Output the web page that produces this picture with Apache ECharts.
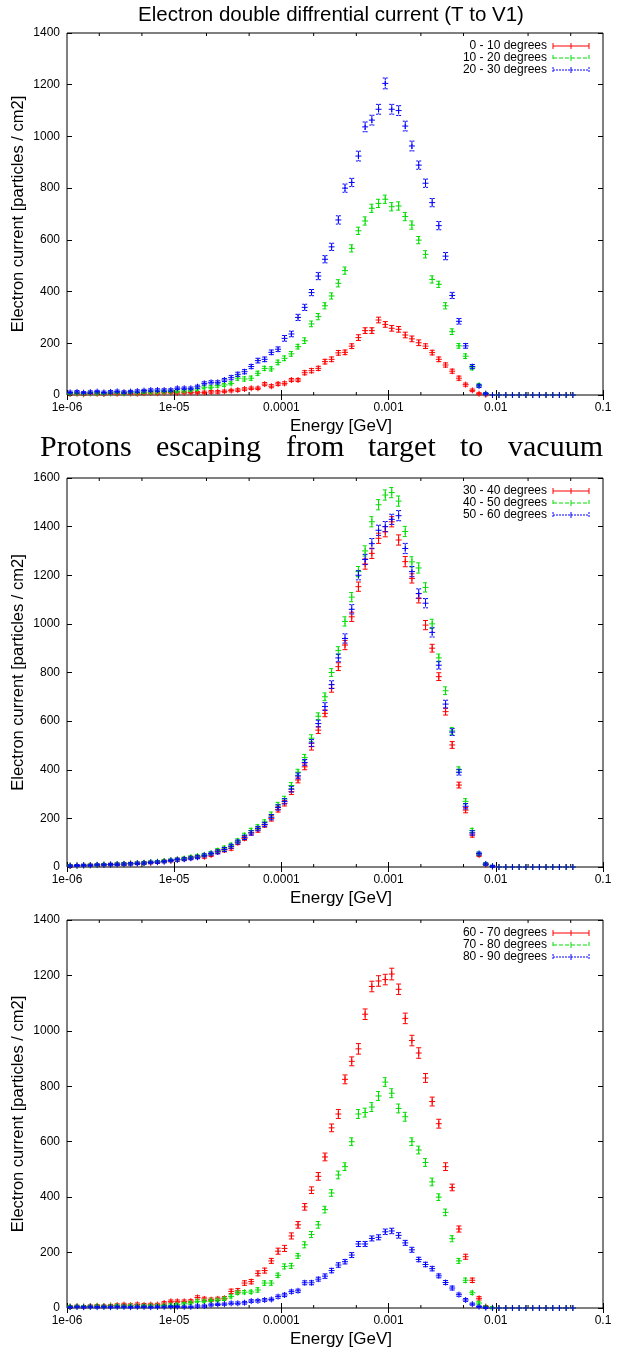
<!DOCTYPE html>
<html>
<head>
<meta charset="utf-8">
<script src="https://cdn.jsdelivr.net/npm/echarts@6/dist/echarts.min.js"></script>
<style>
  html, body { margin: 0; padding: 0; background: #fff; }
  #chart { width: 623px; height: 1350px; }
</style>
</head>
<body>
<div id="chart"></div>
<script>
// Energy bin centres [GeV], 16 logarithmic bins per decade
const energy = [
  1.07e-6, 1.24e-6, 1.43e-6, 1.65e-6, 1.91e-6, 2.21e-6, 2.55e-6, 2.94e-6, 3.40e-6, 3.92e-6, 4.53e-6, 5.23e-6, 6.04e-6, 6.98e-6, 8.06e-6, 9.31e-6,
  1.07e-5, 1.24e-5, 1.43e-5, 1.65e-5, 1.91e-5, 2.21e-5, 2.55e-5, 2.94e-5, 3.40e-5, 3.92e-5, 4.53e-5, 5.23e-5, 6.04e-5, 6.98e-5, 8.06e-5, 9.31e-5,
  1.07e-4, 1.24e-4, 1.43e-4, 1.65e-4, 1.91e-4, 2.21e-4, 2.55e-4, 2.94e-4, 3.40e-4, 3.92e-4, 4.53e-4, 5.23e-4, 6.04e-4, 6.98e-4, 8.06e-4, 9.31e-4,
  1.07e-3, 1.24e-3, 1.43e-3, 1.65e-3, 1.91e-3, 2.21e-3, 2.55e-3, 2.94e-3, 3.40e-3, 3.92e-3, 4.53e-3, 5.23e-3, 6.04e-3, 6.98e-3, 8.06e-3, 9.31e-3,
  1.07e-2, 1.24e-2, 1.43e-2, 1.65e-2, 1.91e-2, 2.21e-2, 2.55e-2, 2.94e-2, 3.40e-2, 3.92e-2, 4.53e-2, 5.23e-2
];

// Energy axis tick labels
const energyTicks = [1e-6, 1e-5, 1e-4, 1e-3, 1e-2, 1e-1];
const energyTickLabels = ['1e-06', '1e-05', '0.0001', '0.001', '0.01', '0.1'];

// --- Panel 1: 0-30 degrees ---
const cur0to10 = [4,5,3,6,5,4,6,5,7,6,5,7, 8,7,9,10,8,9,10,9,10,12,12,14,17, 19,23,26,26,42,34,43,45,58,58,
  86,94,103,129,138,163,165,189,222,249,249, 290,273,258,254,232,217,202,189,164,138,116, 92,65,40,18,5,1,
  0,0,0,0,0,0,0,0,0,0,0,0,0];
const cur0to10Err = [4,4,4,4,4,4,4,4,4,4,4,4, 4,4,4,5,4,4,5,4,5,5,5,5,5, 5,5,5,5,6,6,6,6,6,6,
  8,8,8,9,9,9,9,9,11,11,11, 11,11,11,11,11,11,11,9,9,9,8, 8,8,6,5,4,4,
  0,0,0,0,0,0,0,0,0,0,0,0,0];
const cur10to20 = [6,7,5,8,7,6,8,9,7,10,9,11, 12,12,13,14,15,16,19,23,30,30,36,39,45, 65,62,65,84,103,101,126,142,159,187,
  210,275,303,345,383,432,481,567,635,673,722, 741,757,728,731,690,657,599,544,447,428,345, 245,190,150,105,38,5,
  0,0,0,0,0,0,0,0,0,0,0,0,0];
const cur10to20Err = [4,4,4,4,4,4,4,4,4,5,4,5, 5,5,5,5,5,5,5,5,6,6,6,6,6, 8,8,8,8,8,8,9,9,9,9,
  11,11,12,12,12,14,14,14,14,16,16, 16,16,16,16,16,16,14,14,14,12,12, 11,9,9,8,6,4,
  0,0,0,0,0,0,0,0,0,0,0,0,0];
const cur20to30 = [10,12,9,11,13,10,12,14,11,13,15,17, 19,19,19,19,26,26,26,32,45,49,49,58,67, 80,90,110,133,138,165,177,219,236,300,
  339,396,460,525,573,677,800,822,924,1037,1063, 1105,1205,1105,1100,1040,963,889,819,744,655,537, 385,285,190,110,35,5,
  0,0,0,0,0,0,0,0,0,0,0,0,0];
const cur20to30Err = [5,5,4,5,5,5,5,5,5,5,5,5, 5,5,5,5,5,5,5,6,6,6,6,6,8, 8,8,8,9,9,9,9,11,11,12,
  12,12,14,14,14,16,16,16,19,19,19, 19,21,19,19,19,19,16,16,16,16,14, 12,11,9,8,6,4,
  0,0,0,0,0,0,0,0,0,0,0,0,0];

// --- Panel 2: 30-60 degrees ---
const cur30to40 = [5,6,7,8,8,9,10,11,12,14,15,17,18,20,24,26,30,33,38,
  42,42,49,63,70,77,100,118,141,152,173,200,237,262,310,358,
  412,495,563,632,735,824,913,1029,1153,1246,1290,1352,1379,1420,1345,1256,
  1187,1105,995,900,783,639,502,337,234,132,49,10,2,
  0,0,0,0,0,0,0,0,0,0,0,0];
const cur30to40Err = [4,4,4,4,4,4,5,5,5,5,5,5,5,5,5,5,6,6,6,
  6,6,6,8,8,8,8,8,9,9,9,11,11,11,12,12,
  12,14,14,14,16,16,19,19,19,21,21,21,21,21,21,21,
  19,19,19,16,16,14,14,12,11,9,6,5,4,
  0,0,0,0,0,0,0,0,0,0,0,0];
const cur40to50 = [6,6,7,8,8,10,10,12,13,14,16,17,20,22,25,28,31,35,40,
  45,50,57,68,78,90,108,130,150,165,185,215,255,280,335,390,
  450,530,620,700,800,890,1010,1110,1215,1300,1420,1490,1530,1540,1505,1380,
  1255,1230,1150,1000,860,725,560,400,270,150,55,12,3,
  0,0,0,0,0,0,0,0,0,0,0,0];
const cur40to50Err = [4,4,4,4,4,5,5,5,5,5,5,5,5,5,5,5,6,6,6,
  6,6,6,8,8,8,8,9,9,9,9,11,11,11,12,12,
  13,14,14,16,16,16,19,19,21,21,21,21,21,21,21,21,
  21,21,19,19,16,16,14,12,11,9,6,5,4,
  0,0,0,0,0,0,0,0,0,0,0,0];
const cur50to60 = [5,6,7,7,9,9,10,11,12,13,15,16,19,20,22,27,30,32,36,
  40,48,55,62,72,85,103,122,140,158,175,205,245,270,320,375,
  430,510,590,660,750,860,940,1060,1200,1265,1330,1385,1400,1430,1445,1310,
  1215,1125,1085,965,830,670,555,390,250,140,55,12,3,
  0,0,0,0,0,0,0,0,0,0,0,0];
const cur50to60Err = [4,4,4,4,4,4,5,5,5,5,5,5,5,5,5,5,6,6,6,
  6,6,6,8,8,8,8,9,9,9,9,11,11,11,12,12,
  12,14,14,16,16,16,19,19,19,21,21,21,21,21,21,21,
  21,19,19,19,16,16,14,12,11,9,6,5,4,
  0,0,0,0,0,0,0,0,0,0,0,0];

// --- Panel 3: 60-90 degrees ---
const cur60to70 = [5,6,5,7,8,7,9,10,12,10,13,11, 12,12,18,24,24,24,25,38,33,30,33,35,60, 62,90,95,125,135,170,205,215,260,300,
  365,425,475,545,650,700,825,890,935,1060,1160, 1180,1185,1205,1150,1045,965,920,830,745,665,510, 435,285,185,100,35,5,
  0,0,0,0,0,0,0,0,0,0,0,0,0];
const cur60to70Err = [4,4,4,4,4,4,4,5,5,5,5,5, 5,5,5,5,5,5,5,6,6,6,6,6,8, 8,8,8,9,9,9,11,11,11,12,
  12,12,14,14,14,16,16,16,19,19,19, 19,19,21,19,19,19,19,16,16,16,14, 12,11,9,8,6,4,
  0,0,0,0,0,0,0,0,0,0,0,0,0];
const cur70to80 = [5,6,5,6,7,6,7,8,7,8,7,8, 8,8,9,10,12,15,18,24,24,27,28,33,42, 55,57,58,65,90,90,118,150,152,188,
  228,265,300,355,415,480,510,600,700,705,725, 765,815,775,720,690,600,570,525,455,400,345, 250,170,100,55,18,4,
  1,0,0,0,0,0,0,0,0,0,0,0,0];
const cur70to80Err = [4,4,4,4,4,4,4,4,4,4,4,4, 4,4,4,5,5,5,5,5,5,5,5,6,6, 6,6,6,8,8,8,8,9,9,9,
  11,11,12,12,12,14,14,14,16,16,16, 16,16,16,16,16,14,14,14,14,12,12, 11,9,8,6,5,4,
  4,0,0,0,0,0,0,0,0,0,0,0,0];
const cur80to90 = [3,4,3,4,3,4,3,4,4,3,4,4, 3,4,4,5,5,4,4,7,7,11,13,14,17, 17,19,25,26,29,31,41,47,59,62,
  91,91,104,115,135,155,167,191,231,231,251, 255,275,278,262,235,210,175,157,142,116,92, 72,48,29,14,5,1,
  0,0,0,0,0,0,0,0,0,0,0,0,0];
const cur80to90Err = [3,3,3,3,3,3,3,3,3,3,3,3, 3,3,3,3,3,3,3,4,4,4,4,4,5, 5,5,5,5,5,5,6,6,6,6,
  7,7,7,8,8,8,8,9,9,9,9, 9,10,10,10,9,9,8,8,8,7,7, 7,6,5,4,3,3,
  0,0,0,0,0,0,0,0,0,0,0,0,0];

// Y axis ranges and legend names per panel
const yMaxima = [1400, 1600, 1400];
const legendNames = [
  ['0 - 10 degrees', '10 - 20 degrees', '20 - 30 degrees'],
  ['30 - 40 degrees', '40 - 50 degrees', '50 - 60 degrees'],
  ['60 - 70 degrees', '70 - 80 degrees', '80 - 90 degrees']
];
const panelValues = [
  [cur0to10, cur10to20, cur20to30],
  [cur30to40, cur40to50, cur50to60],
  [cur60to70, cur70to80, cur80to90]
];
const panelErrors = [
  [cur0to10Err, cur10to20Err, cur20to30Err],
  [cur30to40Err, cur40to50Err, cur50to60Err],
  [cur60to70Err, cur70to80Err, cur80to90Err]
];

const titleText = 'Electron double diffrential current (T to V1)';
const captionWords = ['Protons', 'escaping', 'from', 'target', 'to', 'vacuum'];
const xAxisTitle = 'Energy [GeV]';
const yAxisTitle = 'Electron current [particles / cm2]';

// ---------- layout & style ----------
const SANS = '"Liberation Sans", Arial, Helvetica, sans-serif';
const SERIF = '"Liberation Serif", "Times New Roman", serif';
const PLOT_LEFT = 67, PLOT_WIDTH = 536;
const frames = [
  { top: 33, height: 362 },
  { top: 478, height: 389 },
  { top: 920, height: 388 }
];
const colors = ['#ff0000', '#00dd00', '#0000ff'];
const dashes = [null, [4, 2], [2, 1]];
const captionX = [40, 156, 286, 368, 460, 508];

function energyLabel(v) {
  const k = Math.round(Math.log10(v));
  const idx = energyTicks.findIndex(t => Math.round(Math.log10(t)) === k);
  return idx >= 0 ? energyTickLabels[idx] : '';
}

// gnuplot-style error bar: solid "+" point plus a capped vertical bar
function makeErrorBar(color, dash) {
  return function (params, api) {
    const e = api.value(0), v = api.value(1), err = api.value(2);
    const c = api.coord([e, v]);
    const x = c[0], y = c[1];
    const pt = 3, cap = 2.5;
    const solid = { stroke: color, lineWidth: 1 };
    const bar = { stroke: color, lineWidth: 1, lineDash: dash };
    const kids = [
      { type: 'line', shape: { x1: x - pt, y1: y, x2: x + pt, y2: y }, style: solid },
      { type: 'line', shape: { x1: x, y1: y - pt, x2: x, y2: y + pt }, style: solid }
    ];
    if (err > 0) {
      const yHi = api.coord([e, v + err])[1];
      const yLo = api.coord([e, v - err])[1];
      kids.push({ type: 'line', shape: { x1: x, y1: yHi, x2: x, y2: yLo }, style: bar });
      kids.push({ type: 'line', shape: { x1: x - cap, y1: yHi, x2: x + cap, y2: yHi }, style: bar });
      kids.push({ type: 'line', shape: { x1: x - cap, y1: yLo, x2: x + cap, y2: yLo }, style: bar });
    }
    return { type: 'group', children: kids };
  };
}

// minor ticks at 2x and 5x of each decade, on bottom and top edges
const minorTickValues = [];
for (let d = -6; d <= -2; d++) {
  [2, 5].forEach(m => minorTickValues.push(m * Math.pow(10, d)));
}
function makeMinorTicks(yMax) {
  return function (params, api) {
    const v = api.value(0);
    const b = api.coord([v, 0]);
    const t = api.coord([v, yMax]);
    const st = { stroke: '#000', lineWidth: 1 };
    return {
      type: 'group',
      children: [
        { type: 'line', shape: { x1: b[0], y1: b[1], x2: b[0], y2: b[1] - 3 }, style: st },
        { type: 'line', shape: { x1: t[0], y1: t[1], x2: t[0], y2: t[1] + 3 }, style: st }
      ]
    };
  };
}

const grid = [], xAxis = [], yAxis = [], series = [], graphic = [];

frames.forEach((f, k) => {
  grid.push({
    left: PLOT_LEFT, top: f.top, width: PLOT_WIDTH, height: f.height,
    show: true, borderColor: '#000', borderWidth: 1, backgroundColor: 'transparent',
    containLabel: false, outerBoundsMode: 'none'
  });
  const xBase = {
    type: 'log', logBase: 10, min: 1e-6, max: 0.1, gridIndex: k,
    axisLine: { show: false },
    axisTick: { show: true, inside: true, length: 5, lineStyle: { color: '#000', width: 1 } },
    splitLine: { show: false }, minorTick: { show: false }
  };
  xAxis.push(Object.assign({}, xBase, {
    position: 'bottom',
    axisLabel: {
      show: true, formatter: energyLabel, color: '#000', fontSize: 12, fontFamily: SANS,
      margin: 7, showMinLabel: true, showMaxLabel: true
    }
  }));
  xAxis.push(Object.assign({}, xBase, { position: 'top', axisLabel: { show: false } }));
  const yBase = {
    type: 'value', gridIndex: k, min: 0, max: yMaxima[k], interval: 200,
    axisLine: { show: false },
    axisTick: { show: true, inside: true, length: 5, lineStyle: { color: '#000', width: 1 } },
    splitLine: { show: false }
  };
  yAxis.push(Object.assign({}, yBase, {
    position: 'left',
    axisLabel: {
      show: true, color: '#000', fontSize: 12, fontFamily: SANS, margin: 7,
      formatter: v => String(v)
    }
  }));
  yAxis.push(Object.assign({}, yBase, { position: 'right', axisLabel: { show: false } }));

  series.push({
    type: 'custom', name: 'minor-ticks-' + k, xAxisIndex: 2 * k, yAxisIndex: 2 * k,
    data: minorTickValues.map(v => [v, 0]), encode: { x: 0, y: 1 },
    renderItem: makeMinorTicks(yMaxima[k]), silent: true, clip: false, z: 1
  });

  panelValues[k].forEach((vals, j) => {
    const errs = panelErrors[k][j];
    series.push({
      type: 'custom', name: legendNames[k][j], xAxisIndex: 2 * k, yAxisIndex: 2 * k,
      data: energy.map((e, i) => [e, vals[i], errs[i]]),
      encode: { x: 0, y: 1 },
      renderItem: makeErrorBar(colors[j], dashes[j]),
      silent: true, clip: false, z: 2 + j
    });
  });

  // legend (key) in the upper right corner
  legendNames[k].forEach((name, j) => {
    const y = f.top + 13 + j * 12;
    graphic.push({
      type: 'text', x: 547, y: y,
      style: { text: name, font: '12px ' + SANS, fill: '#000', align: 'right', verticalAlign: 'middle' }
    });
    const ls = { stroke: colors[j], lineWidth: 1, lineDash: dashes[j] };
    const ps = { stroke: colors[j], lineWidth: 1 };
    graphic.push({ type: 'line', shape: { x1: 553, y1: y, x2: 589, y2: y }, style: ls });
    graphic.push({ type: 'line', shape: { x1: 553, y1: y - 3, x2: 553, y2: y + 3 }, style: ls });
    graphic.push({ type: 'line', shape: { x1: 589, y1: y - 3, x2: 589, y2: y + 3 }, style: ls });
    graphic.push({ type: 'line', shape: { x1: 571, y1: y - 3, x2: 571, y2: y + 3 }, style: ps });
  });

  // axis titles
  graphic.push({
    type: 'text', x: 341, y: f.top + f.height + 31,
    style: { text: xAxisTitle, font: '17px ' + SANS, fill: '#000', align: 'center', verticalAlign: 'middle' }
  });
  graphic.push({
    type: 'text', x: 18, y: f.top + f.height / 2, rotation: Math.PI / 2,
    style: { text: yAxisTitle, font: '16.5px ' + SANS, fill: '#000', align: 'center', verticalAlign: 'middle' }
  });
});

// chart title
graphic.push({
  type: 'text', x: 331, y: 15,
  style: { text: titleText, font: '20.5px ' + SANS, fill: '#000', align: 'center', verticalAlign: 'middle' }
});

// caption line between the first two panels, spread across the width
captionWords.forEach((w, i) => {
  const last = i === captionWords.length - 1;
  graphic.push({
    type: 'text', x: last ? 603 : captionX[i], y: 448,
    style: {
      text: w, font: '30px ' + SERIF, fill: '#000',
      align: last ? 'right' : 'left', verticalAlign: 'middle'
    }
  });
});

const chart = echarts.init(document.getElementById('chart'), null, { renderer: 'canvas' });
chart.setOption({
  animation: false,
  backgroundColor: '#fff',
  grid, xAxis, yAxis, series, graphic
});
</script>
</body>
</html>
